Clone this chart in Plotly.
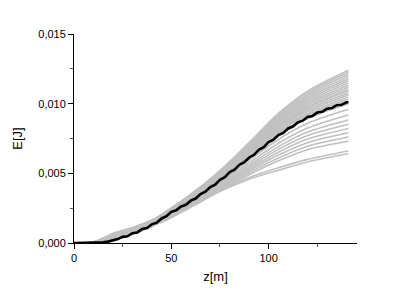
import plotly.graph_objects as go

z_runs = [0, 8, 14, 20, 30, 45, 60, 75, 90, 105, 120, 141]

# Individual runs, energy in mJ
run_01 = [0, 0, 0.13, 0.35, 0.77, 2.05, 3.50, 5.20, 7.20, 9.30, 10.90, 12.40]
run_02 = [0, 0, 0.20, 0.50, 0.92, 2.03, 3.47, 5.16, 7.13, 9.20, 10.77, 12.25]
run_03 = [0, 0, 0.08, 0.25, 0.67, 2.02, 3.45, 5.12, 7.06, 9.10, 10.65, 12.09]
run_04 = [0, 0, 0.25, 0.60, 1.02, 2.00, 3.42, 5.07, 6.99, 8.99, 10.52, 11.94]
run_05 = [0, 0, 0.10, 0.30, 0.72, 1.98, 3.39, 5.03, 6.92, 8.89, 10.40, 11.79]
run_06 = [0, 0, 0.18, 0.45, 0.87, 1.97, 3.37, 4.99, 6.86, 8.79, 10.27, 11.64]
run_07 = [0, 0, 0.30, 0.70, 1.12, 1.95, 3.34, 4.95, 6.79, 8.69, 10.14, 11.48]
run_08 = [0, 0, 0.06, 0.23, 0.65, 1.93, 3.31, 4.91, 6.72, 8.59, 10.02, 11.33]
run_09 = [0, 0, 0.15, 0.40, 0.82, 1.92, 3.28, 4.86, 6.65, 8.48, 9.89, 11.18]
run_10 = [0, 0, 0.23, 0.55, 0.97, 1.90, 3.26, 4.82, 6.58, 8.38, 9.77, 11.02]
run_11 = [0, 0, 0.09, 0.28, 0.70, 1.89, 3.24, 4.79, 6.53, 8.31, 9.68, 10.92]
run_12 = [0, 0, 0.28, 0.65, 1.07, 1.87, 3.21, 4.75, 6.46, 8.21, 9.56, 10.77]
run_13 = [0, 0, 0.11, 0.33, 0.75, 1.86, 3.19, 4.71, 6.40, 8.11, 9.43, 10.62]
run_14 = [0, 0, 0.14, 0.38, 0.80, 1.84, 3.16, 4.67, 6.33, 8.01, 9.30, 10.46]
run_15 = [0, 0, 0.05, 0.20, 0.62, 1.82, 3.13, 4.63, 6.26, 7.91, 9.18, 10.31]
run_16 = [0, 0, 0.19, 0.48, 0.90, 1.81, 3.10, 4.58, 6.19, 7.80, 9.05, 10.16]
run_17 = [0, 0, 0.08, 0.25, 0.67, 1.79, 3.08, 4.54, 6.12, 7.70, 8.93, 10.00]
run_18 = [0, 0, 0.24, 0.58, 1.00, 1.75, 3.01, 4.43, 5.94, 7.43, 8.59, 9.60]
run_19 = [0, 0, 0.10, 0.30, 0.72, 1.70, 2.93, 4.32, 5.75, 7.16, 8.25, 9.19]
run_20 = [0, 0, 0.16, 0.43, 0.85, 1.67, 2.87, 4.22, 5.59, 6.92, 7.96, 8.83]
run_21 = [0, 0, 0.06, 0.23, 0.65, 1.63, 2.82, 4.14, 5.45, 6.72, 7.71, 8.52]
run_22 = [0, 0, 0.21, 0.53, 0.95, 1.60, 2.76, 4.05, 5.31, 6.51, 7.46, 8.22]
run_23 = [0, 0, 0.13, 0.35, 0.77, 1.57, 2.71, 3.97, 5.18, 6.31, 7.20, 7.91]
run_24 = [0, 0, 0.05, 0.20, 0.62, 1.53, 2.65, 3.88, 5.04, 6.10, 6.95, 7.61]
run_25 = [0, 0, 0.09, 0.28, 0.70, 1.50, 2.60, 3.80, 4.90, 5.90, 6.70, 7.30]
run_26 = [0, 0, 0.15, 0.40, 0.82, 1.51, 2.60, 3.74, 4.70, 5.40, 6.00, 6.60]
run_27 = [0, 0, 0.08, 0.25, 0.67, 1.50, 2.57, 3.70, 4.58, 5.22, 5.82, 6.40]

runs = [run_01, run_02, run_03, run_04, run_05, run_06, run_07, run_08, run_09,
        run_10, run_11, run_12, run_13, run_14, run_15, run_16, run_17, run_18,
        run_19, run_20, run_21, run_22, run_23, run_24, run_25, run_26, run_27]

# Mean curve (with its small step-like wiggles), energy in mJ
z_mean = [0, 2.5, 5, 7.5, 10, 12.5, 15, 17.5, 20, 22.5, 25, 27.5, 30, 32.5, 35,
          37.5, 40, 42.5, 45, 47.5, 50, 52.5, 55, 57.5, 60, 62.5, 65, 67.5, 70,
          72.5, 75, 77.5, 80, 82.5, 85, 87.5, 90, 92.5, 95, 97.5, 100, 102.5, 105,
          107.5, 110, 112.5, 115, 117.5, 120, 122.5, 125, 127.5, 130, 132.5, 135,
          137.5, 140, 141]
E_mean = [0, 0, 0, 0, 0, 0.02, 0.05, 0.10, 0.18, 0.28, 0.44, 0.48, 0.70, 0.76,
          1.00, 1.08, 1.34, 1.46, 1.76, 1.92, 2.24, 2.35, 2.62, 2.74, 3.04, 3.19,
          3.51, 3.68, 4.01, 4.19, 4.54, 4.73, 5.09, 5.27, 5.62, 5.80, 6.14, 6.33,
          6.69, 6.88, 7.24, 7.41, 7.74, 7.90, 8.22, 8.36, 8.66, 8.78, 9.04, 9.12,
          9.36, 9.42, 9.64, 9.69, 9.89, 9.92, 10.10, 10.10]

x_ticks = [0, 50, 100]
y_ticks = [0.0, 0.005, 0.010, 0.015]

fig = go.Figure()
for r in runs:
    fig.add_trace(go.Scatter(
        x=z_runs, y=[v / 1000 for v in r], mode="lines",
        line=dict(color="#c0c0c0", width=1.6, shape="spline", smoothing=0.9),
        hoverinfo="skip", showlegend=False))

fig.add_trace(go.Scatter(
    x=z_mean, y=[v / 1000 for v in E_mean], mode="lines",
    line=dict(color="#000000", width=2.6),
    showlegend=False))

axis_font = dict(family="Liberation Sans, Arial, sans-serif", size=11, color="#000000")
title_font = dict(family="Liberation Sans, Arial, sans-serif", size=13, color="#000000")

# The page body adds an 8 px offset, so the figure is sized to fill the rest.
fig.update_layout(
    width=407, height=284,
    margin=dict(l=66, r=58, t=26, b=49, autoexpand=False),
    paper_bgcolor="white", plot_bgcolor="white",
    separators=",.",
    showlegend=False,
)
fig.update_xaxes(
    range=[0, 145.4], tickvals=x_ticks, ticks="outside", ticklen=5, tickwidth=1,
    tickcolor="black", showline=True, linecolor="black", linewidth=1,
    showgrid=False, zeroline=False, tickfont=axis_font, automargin=False,
    minor=dict(dtick=25, tick0=0, ticks="outside", ticklen=3, tickcolor="#555555", showgrid=False),
    title=dict(text="z[m]", font=title_font, standoff=8),
)
fig.update_yaxes(
    range=[0, 0.015], tickvals=y_ticks, tickformat=".3f", ticks="outside", ticklen=5,
    tickwidth=1, tickcolor="black", showline=True, linecolor="black", linewidth=1,
    showgrid=False, zeroline=False, tickfont=axis_font, automargin=False,
    minor=dict(dtick=0.0025, tick0=0, ticks="outside", ticklen=3, tickcolor="#555555", showgrid=False),
    title=dict(text="E[J]", font=title_font, standoff=12),
)

fig.write_html("out.html")
